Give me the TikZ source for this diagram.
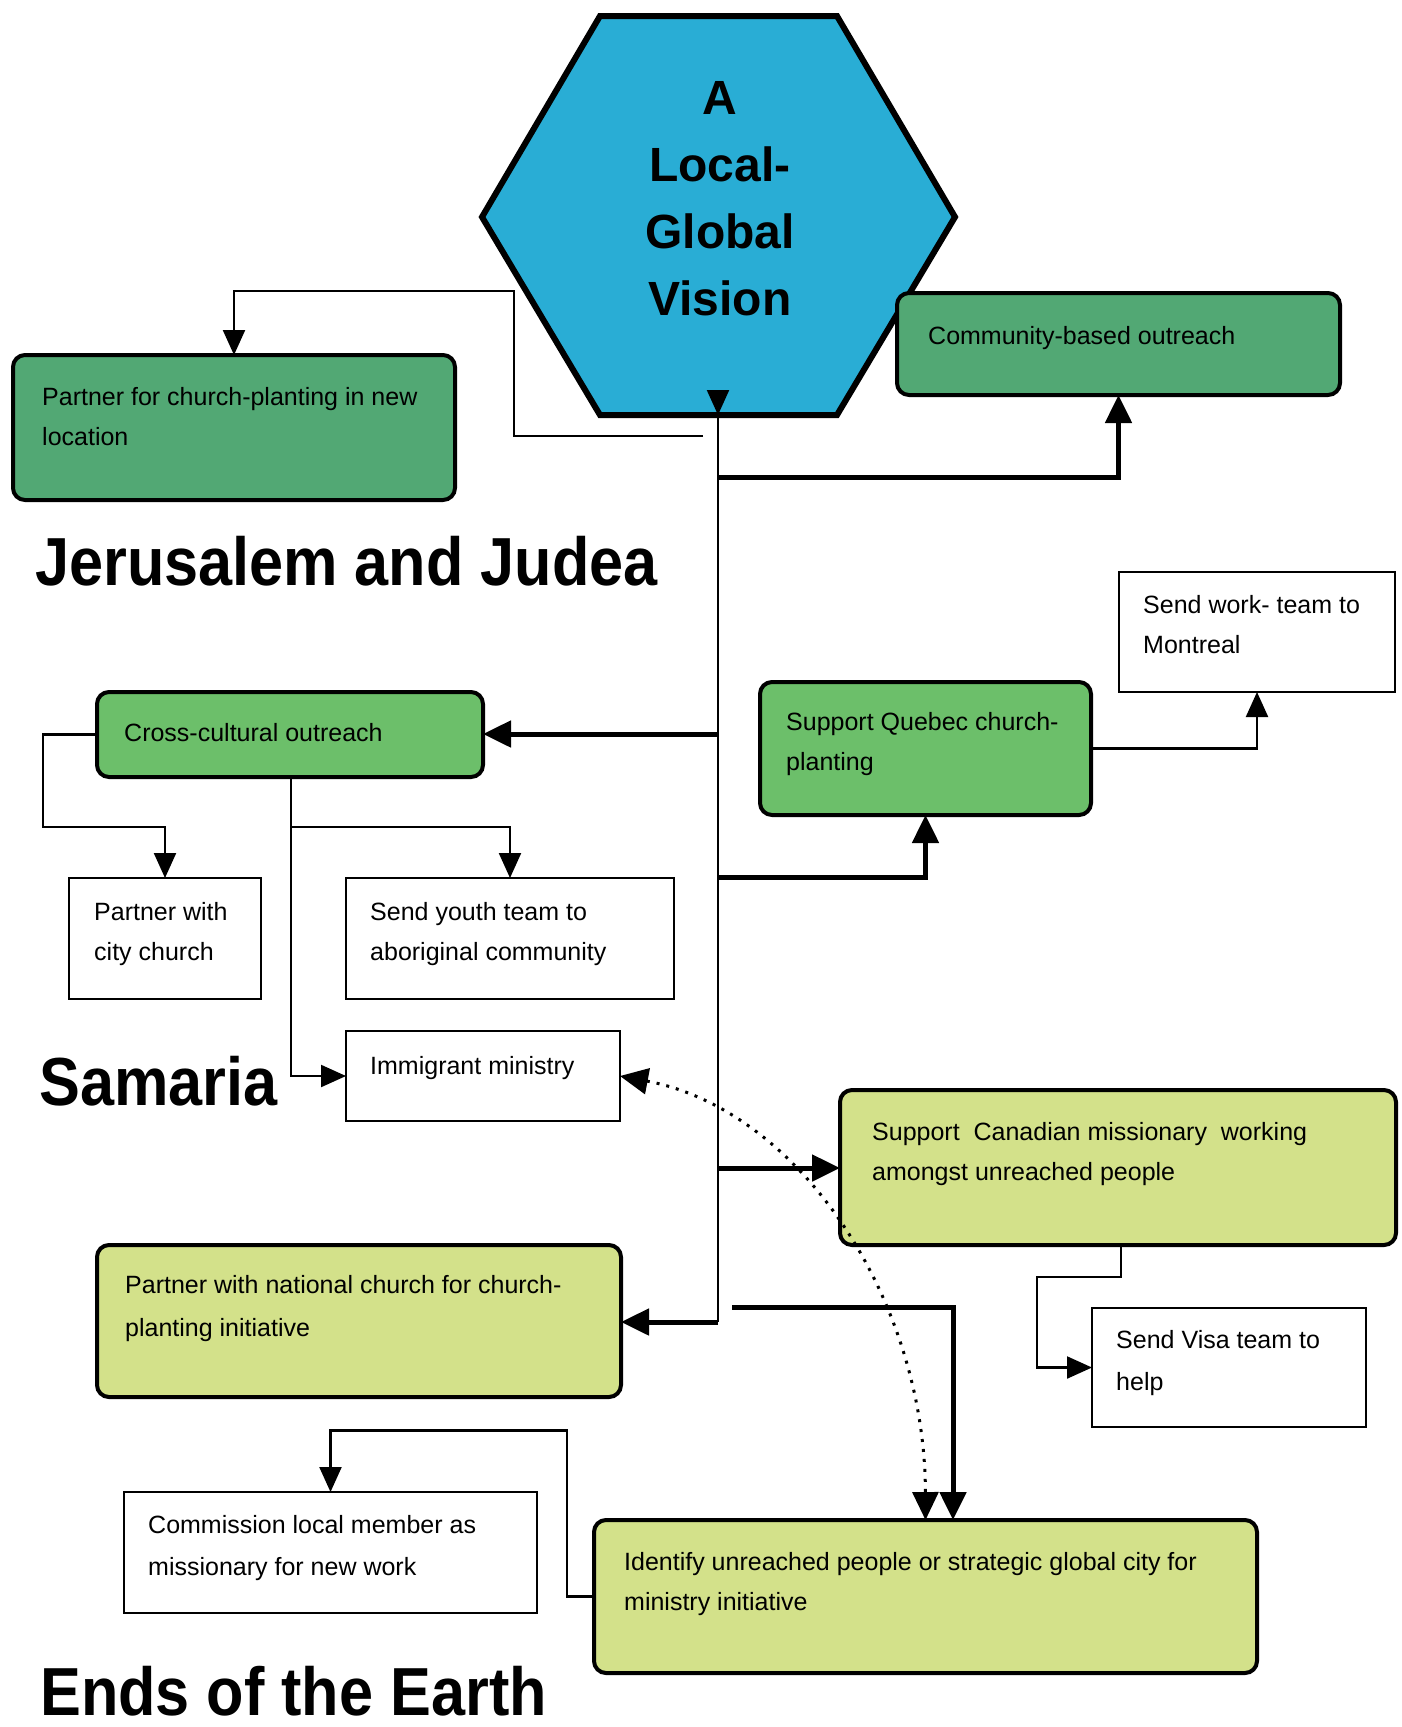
\documentclass[tikz,border=0pt]{standalone}
\usepackage{fontspec}
\setmainfont{Liberation Sans}
\newfontfamily\headfont{Liberation Sans}[FakeStretch=0.9]
\usetikzlibrary{arrows.meta}

\definecolor{hexblue}{HTML}{29ADD5}
\definecolor{darkgreen}{HTML}{52A874}
\definecolor{midgreen}{HTML}{6CBF6A}
\definecolor{palelime}{HTML}{D3E18A}

\tikzset{
  basebox/.style={draw=black, anchor=north west, inner sep=0pt, outer sep=0pt},
  colbox/.style={basebox, line width=4pt, rounded corners=12pt},
  plainbox/.style={basebox, line width=2pt, fill=white},
  txt/.style={anchor=north west, inner sep=0pt, align=left, font=\fontsize{25}{40}\selectfont},
  heading/.style={anchor=base west, inner sep=0pt, font=\headfont\bfseries\fontsize{68}{80}\selectfont},
  thinline/.style={line width=2.2pt},
  thickline/.style={line width=5pt},
  arrowhd/.style={-{Triangle[length=28pt,width=26pt]}},
  arrowsm/.style={-{Triangle[length=25pt,width=22pt]}},
}

\begin{document}
\begin{tikzpicture}[x=1pt,y=-1pt]
\useasboundingbox (0,0) rectangle (1402,1727);
\fill[white] (0,0) rectangle (1402,1727);

% central hexagon
\draw[line width=6pt, fill=hexblue, line join=miter]
  (600,16) -- (837,16) -- (955,217) -- (837,415) -- (600,415) -- (482,217) -- cycle;
\node[anchor=north, inner sep=0pt, align=center,
      font=\bfseries\fontsize{48}{67}\selectfont] (vision) at (720,81)
  {A\\Local-\\Global\\Vision};
\coordinate (hexbot) at (718,415);

% boxes
\node[colbox, fill=darkgreen, minimum width=443pt, minimum height=102pt] (comm) at (897,293) {};
\node[colbox, fill=darkgreen, minimum width=442pt, minimum height=145pt] (pcp) at (13,355) {};
\node[colbox, fill=midgreen, minimum width=386pt, minimum height=85pt] (cross) at (97,692) {};
\node[colbox, fill=midgreen, minimum width=331pt, minimum height=133pt] (quebec) at (760,682) {};
\node[colbox, fill=palelime, minimum width=556pt, minimum height=155pt] (canad) at (840,1090) {};
\node[colbox, fill=palelime, minimum width=524pt, minimum height=152pt] (pnat) at (97,1245) {};
\node[colbox, fill=palelime, minimum width=663pt, minimum height=153pt] (ident) at (594,1520) {};
\node[plainbox, minimum width=192pt, minimum height=121pt] (pcity) at (69,878) {};
\node[plainbox, minimum width=328pt, minimum height=121pt] (youth) at (346,878) {};
\node[plainbox, minimum width=274pt, minimum height=90pt] (immig) at (346,1031) {};
\node[plainbox, minimum width=276pt, minimum height=120pt] (work) at (1119,572) {};
\node[plainbox, minimum width=274pt, minimum height=119pt] (visa) at (1092,1308) {};
\node[plainbox, minimum width=413pt, minimum height=121pt] (commis) at (124,1492) {};

% box texts
\node[txt] (comm-t) at (928,326) {Community-based outreach};
\node[txt] (pcp-t) at (42,387) {Partner for church-planting in new\\location};
\node[txt] (cross-t) at (124,723) {Cross-cultural outreach};
\node[txt] (quebec-t) at (786,712) {Support Quebec church-\\planting};
\node[txt] (canad-t) at (872,1122) {Support~ Canadian missionary~ working\\amongst unreached people};
\node[txt] (pnat-t) at (125,1275) {Partner with national church for church-\\[3pt]planting initiative};
\node[txt] (ident-t) at (624,1552) {Identify unreached people or strategic global city for\\ministry initiative};
\node[txt] (pcity-t) at (94,902) {Partner with\\city church};
\node[txt] (youth-t) at (370,902) {Send youth team to\\aboriginal community};
\node[txt] (immig-t) at (370,1056) {Immigrant ministry};
\node[txt] (work-t) at (1143,595) {Send work- team to\\Montreal};
\node[txt] (visa-t) at (1116,1330) {Send Visa team to\\[2pt]help};
\node[txt] (commis-t) at (148,1515) {Commission local member as\\[2pt]missionary for new work};

% headings
\node[heading] (jer) at (35,585) {Jerusalem and Judea};
\node[heading] (sam) at (39,1105) {Samaria};
\node[heading] (ends) at (40,1715) {Ends of the Earth};

% junctions on the central trunk
\coordinate (j1) at (718,477);
\coordinate (j2) at (718,734);
\coordinate (j3) at (718,877);
\coordinate (j4) at (718,1168);
\coordinate (j5) at (718,1322);
\coordinate (pcpfree) at (703,436);
\coordinate (idfree) at (732,1307);
\coordinate (crossdrop) at (291,777);
\coordinate (crossfork) at (291,827);

% central trunk
\draw[thinline] (hexbot) -- (j5);
\draw[thinline, arrowsm] ([yshift=24pt]hexbot) -- (hexbot);

% trunk branches
\draw[thickline, arrowhd] (j1) -| (comm.south);
\draw[thickline, arrowhd] (j2) -- (j2 -| cross.east);
\draw[thickline, arrowhd] (j3) -| (quebec.south);
\draw[thickline, arrowhd] (j4) -- (j4 -| canad.west);
\draw[thickline, arrowhd] (j5) -- (j5 -| pnat.east);
\draw[thickline, arrowhd] (idfree) -| ([xshift=359pt]ident.north west);
\draw[thinline, arrowsm] (pcpfree) -- ++(-189,0) -- ++(0,-145) -| (pcp.north);

% secondary links
\draw[thinline, arrowsm] (cross.west) -- ++(-54,0) |- (crossfork -| pcity.north) -- (pcity.north);
\draw[thinline, arrowsm] (crossdrop) |- (immig.west);
\draw[thinline, arrowsm] (crossfork) -| (youth.north);
\draw[thinline, arrowsm] (quebec.east) -| (work.south);
\draw[thinline, arrowsm] ([xshift=281pt]canad.south west) -- ++(0,32) -- ++(-84,0) |- (visa.west);
\draw[thinline, arrowsm] (ident.west) -- ++(-27,0) -- ++(0,-166) -| (commis.north);

% dotted link between immigrant ministry and the global initiative
\draw[line width=3pt, dash pattern=on 3pt off 7pt,
      {Triangle[length=28pt,width=26pt]}-{Triangle[length=28pt,width=26pt]}]
  (immig.east) .. controls (800,1110) and (925,1300) .. (ident.north);
\end{tikzpicture}
\end{document}
